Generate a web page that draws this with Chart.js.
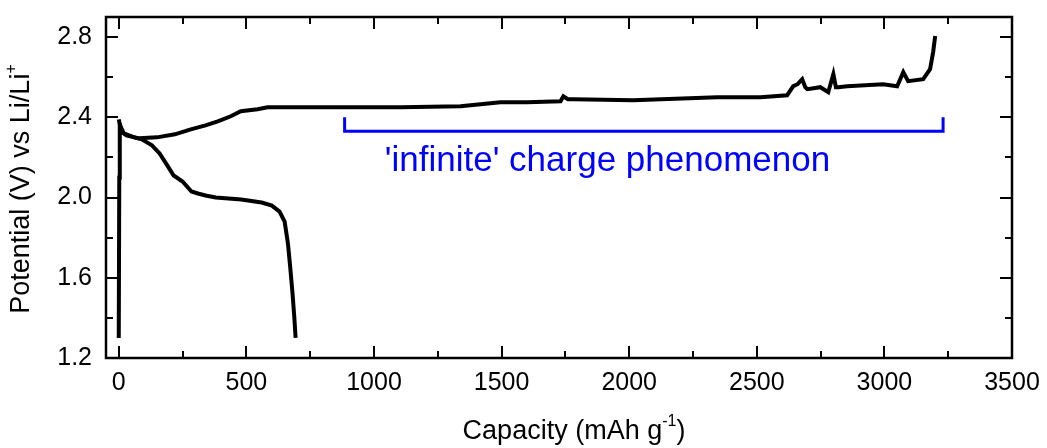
<!DOCTYPE html>
<html>
<head>
<meta charset="utf-8">
<title>Potential vs capacity</title>
<script src="https://cdn.jsdelivr.net/npm/chart.js@4.4.1/dist/chart.umd.min.js"></script>
<style>
  html, body { margin: 0; padding: 0; background: #fff; }
  #wrap { width: 1047px; height: 448px; }
</style>
</head>
<body>
<div id="wrap"><canvas id="chart" width="1047" height="448"></canvas></div>
<script>
// Discharge branch (capacity in mAh/g, potential in V)
const dischargeCap = [0, 5, 20, 60, 90, 130, 160, 190, 215, 250, 285, 310, 340, 380, 480, 560, 600, 630, 650, 663, 672, 681, 688, 693];
const dischargeV = [2.39, 2.36, 2.32, 2.30, 2.29, 2.26, 2.22, 2.16, 2.11, 2.08, 2.03, 2.02, 2.01, 2.00, 1.99, 1.975, 1.96, 1.93, 1.88, 1.77, 1.65, 1.52, 1.40, 1.30];

// Charge branch
const chargeCap = [0, 2, 4, 10, 30, 80, 150, 220, 282, 340, 388, 439, 478, 544, 583, 700, 908, 1104, 1339, 1496, 1600, 1731, 1742, 1760, 1781, 2016, 2345, 2514, 2619, 2643, 2660, 2678, 2690, 2698, 2749, 2780, 2800, 2810, 2819, 2854, 2995, 3050, 3074, 3093, 3152, 3179, 3191, 3199];
const chargeV = [1.30, 2.10, 2.37, 2.33, 2.31, 2.295, 2.30, 2.315, 2.34, 2.36, 2.38, 2.405, 2.43, 2.44, 2.45, 2.45, 2.45, 2.45, 2.455, 2.475, 2.475, 2.48, 2.505, 2.49, 2.49, 2.485, 2.50, 2.50, 2.51, 2.555, 2.565, 2.59, 2.55, 2.54, 2.55, 2.525, 2.615, 2.55, 2.55, 2.555, 2.565, 2.555, 2.625, 2.58, 2.59, 2.64, 2.725, 2.805];

// Bracket marking the 'infinite' charge region
const bracketCap = [885, 885, 3230, 3230];
const bracketV = [2.40, 2.33, 2.33, 2.40];
const noteText = "'infinite' charge phenomenon";
const noteCap = 1915;
const noteV = 2.18;

// Tick labels
const xTicks = [0, 500, 1000, 1500, 2000, 2500, 3000, 3500];
const yTicks = [1.2, 1.6, 2.0, 2.4, 2.8];

function toPoints(xs, ys) {
    return xs.map(function(v, i) { return { x: v, y: ys[i] }; });
}

function midpoints(arr) {
    const out = [];
    for (let i = 0; i < arr.length - 1; i++) out.push((arr[i] + arr[i + 1]) / 2);
    return out;
}

const FONT = '"Liberation Sans", Arial, sans-serif';

// draw a text made of normal and superscript parts, centred on (cx, cy)
function drawRich(ctx, parts, cx, cy, size) {
    const supSize = Math.round(size * 0.6);
    let total = 0;
    parts.forEach(function(p) {
        ctx.font = (p.sup ? supSize : size) + 'px ' + FONT;
        p.w = ctx.measureText(p.t).width;
        total += p.w;
    });
    let x = cx - total / 2;
    ctx.textAlign = 'left';
    ctx.textBaseline = 'middle';
    parts.forEach(function(p) {
        ctx.font = (p.sup ? supSize : size) + 'px ' + FONT;
        ctx.fillText(p.t, x, p.sup ? cy - size * 0.38 : cy);
        x += p.w;
    });
}

const framePlugin = {
    id: 'frame',
    afterDraw(chart) {
        const ctx = chart.ctx;
        const a = chart.chartArea;
        const xs = chart.scales.x;
        const ys = chart.scales.y;
        ctx.save();
        ctx.strokeStyle = '#000';
        ctx.lineWidth = 2;
        ctx.beginPath();
        // inward ticks on all four sides
        function xTick(v, len) {
            const px = Math.round(xs.getPixelForValue(v));
            ctx.moveTo(px, a.bottom); ctx.lineTo(px, a.bottom - len);
            ctx.moveTo(px, a.top); ctx.lineTo(px, a.top + len);
        }
        function yTick(v, len) {
            const py = Math.round(ys.getPixelForValue(v));
            ctx.moveTo(a.left, py); ctx.lineTo(a.left + len, py);
            ctx.moveTo(a.right, py); ctx.lineTo(a.right - len, py);
        }
        xTicks.forEach(function(v) { if (v < xs.max) xTick(v, 12); });
        midpoints(xTicks).forEach(function(v) { xTick(v, 7); });
        yTicks.forEach(function(v) { if (v > ys.min) yTick(v, 12); });
        midpoints(yTicks).forEach(function(v) { yTick(v, 7); });
        ctx.stroke();
        ctx.lineWidth = 2.5;
        ctx.strokeRect(a.left, a.top, a.right - a.left, a.bottom - a.top);

        // axis titles
        ctx.fillStyle = '#000';
        drawRich(ctx, [{ t: 'Capacity (mAh g' }, { t: '-1', sup: true }, { t: ')' }], 574, 432, 27);
        ctx.save();
        ctx.translate(22, 189);
        ctx.rotate(-Math.PI / 2);
        drawRich(ctx, [{ t: 'Potential (V) vs Li/Li' }, { t: '+', sup: true }], 0, 0, 27);
        ctx.restore();

        // annotation
        ctx.fillStyle = '#0000ff';
        ctx.font = '35px ' + FONT;
        ctx.textAlign = 'center';
        ctx.textBaseline = 'middle';
        ctx.fillText(noteText, xs.getPixelForValue(noteCap), ys.getPixelForValue(noteV));
        ctx.restore();
    }
};

new Chart(document.getElementById('chart'), {
    type: 'scatter',
    data: {
        datasets: [{
            label: 'Discharge',
            data: toPoints(dischargeCap, dischargeV),
            showLine: true,
            borderColor: '#000',
            borderWidth: 4,
            pointRadius: 0,
            tension: 0
        }, {
            label: 'Charge',
            data: toPoints(chargeCap, chargeV),
            showLine: true,
            borderColor: '#000',
            borderWidth: 4,
            pointRadius: 0,
            tension: 0
        }, {
            label: 'Bracket',
            data: toPoints(bracketCap, bracketV),
            showLine: true,
            borderColor: '#0000ff',
            borderWidth: 3,
            pointRadius: 0,
            tension: 0
        }]
    },
    options: {
        responsive: false,
        animation: false,
        layout: { padding: { top: 17, right: 35, left: 0, bottom: 0 } },
        plugins: {
            legend: { display: false },
            tooltip: { enabled: false }
        },
        scales: {
            x: {
                type: 'linear',
                min: -50,
                max: 3500,
                grid: { display: false, drawTicks: false },
                border: { display: false },
                afterBuildTicks: function(scale) {
                    scale.ticks = xTicks.map(function(v) { return { value: v }; });
                },
                afterFit: function(scale) {
                    scale.height = 90;
                    scale.paddingLeft = 0;
                    scale.paddingRight = 0;
                },
                ticks: {
                    color: '#000',
                    padding: 10,
                    maxRotation: 0,
                    autoSkip: false,
                    font: { family: FONT, size: 25 },
                    callback: function(v) { return String(v); }
                }
            },
            y: {
                min: 1.2,
                max: 2.9,
                grid: { display: false, drawTicks: false },
                border: { display: false },
                afterBuildTicks: function(scale) {
                    scale.ticks = yTicks.map(function(v) { return { value: v }; });
                },
                afterFit: function(scale) {
                    scale.width = 106;
                    scale.paddingTop = 0;
                    scale.paddingBottom = 0;
                },
                ticks: {
                    color: '#000',
                    padding: 14,
                    autoSkip: false,
                    font: { family: FONT, size: 25 },
                    callback: function(v) { return Number(v).toFixed(1); }
                }
            }
        }
    },
    plugins: [framePlugin]
});
</script>
</body>
</html>
